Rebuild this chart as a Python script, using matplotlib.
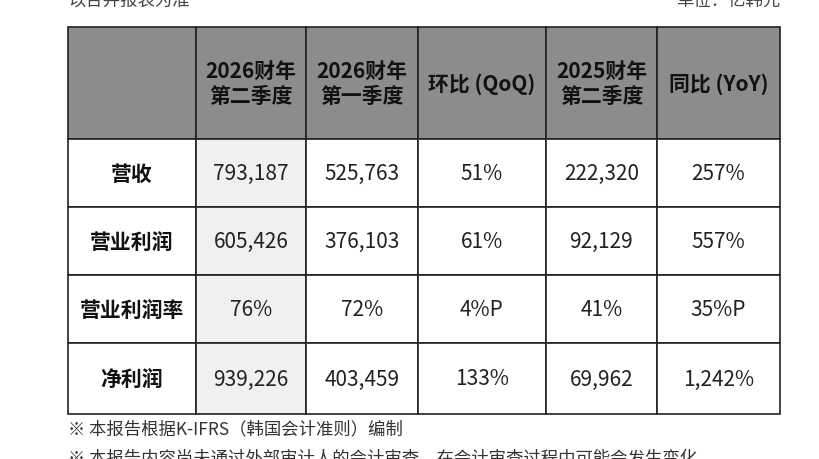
import matplotlib.pyplot as plt
from matplotlib.patches import Rectangle

plt.rcParams['font.family'] = ['Noto Sans CJK SC', 'DejaVu Sans']

headers = ['', '2026财年\n第二季度', '2026财年\n第一季度', '环比 (QoQ)', '2025财年\n第二季度', '同比 (YoY)']
row_labels = ['营收', '营业利润', '营业利润率', '净利润']
cells = [
    ['793,187', '525,763', '51%', '222,320', '257%'],
    ['605,426', '376,103', '61%', '92,129', '557%'],
    ['76%', '72%', '4%P', '41%', '35%P'],
    ['939,226', '403,459', '133%', '69,962', '1,242%'],
]
note_top_left = '以合并报表为准'
note_top_right = '单位：亿韩元'
notes = ['※ 本报告根据K-IFRS（韩国会计准则）编制',
         '※ 本报告内容尚未通过外部审计人的会计审查，在会计审查过程中可能会发生变化']

col_x = [68, 196, 306, 418, 546, 657, 780]
row_y = [28, 140, 208, 276, 344, 415]

fig = plt.figure(figsize=(8.2, 4.6), dpi=100)
ax = fig.add_axes([0, 0, 1, 1])
ax.set_xlim(0, 820)
ax.set_ylim(460, 0)
ax.axis('off')

# header
for j in range(6):
    x0, x1 = col_x[j], col_x[j + 1]
    ax.add_patch(Rectangle((x0, row_y[0]), x1 - x0, row_y[1] - row_y[0],
                           facecolor='#8c8c8c', edgecolor='#222222', lw=1.2))
    ax.text((x0 + x1) / 2, (row_y[0] + row_y[1]) / 2, headers[j], ha='center', va='center',
            fontsize=15, fontweight='bold', color='#111111', linespacing=1.25)

for i, lab in enumerate(row_labels):
    y0, y1 = row_y[i + 1], row_y[i + 2]
    cy = (y0 + y1) / 2
    for j in range(6):
        x0, x1 = col_x[j], col_x[j + 1]
        fc = '#f0f0f0' if j == 1 else 'white'
        ax.add_patch(Rectangle((x0, y0), x1 - x0, y1 - y0, facecolor=fc,
                               edgecolor='#222222', lw=1.2))
        if j == 0:
            ax.text((x0 + x1) / 2, cy, lab, ha='center', va='center', fontsize=15,
                    fontweight='bold', color='#111111')
        else:
            ax.text((x0 + x1) / 2, cy, cells[i][j - 1], ha='center', va='center',
                    fontsize=15, color='#222222')

ax.text(68, 10, note_top_left, ha='left', va='bottom', fontsize=12.5, color='#444444')
ax.text(780, 10, note_top_right, ha='right', va='bottom', fontsize=12.5, color='#444444')
ax.text(68, 429, notes[0], ha='left', va='center', fontsize=12.5, color='#333333')
ax.text(68, 459, notes[1], ha='left', va='center', fontsize=12.5, color='#333333')

fig.savefig('out.png', dpi=100)
